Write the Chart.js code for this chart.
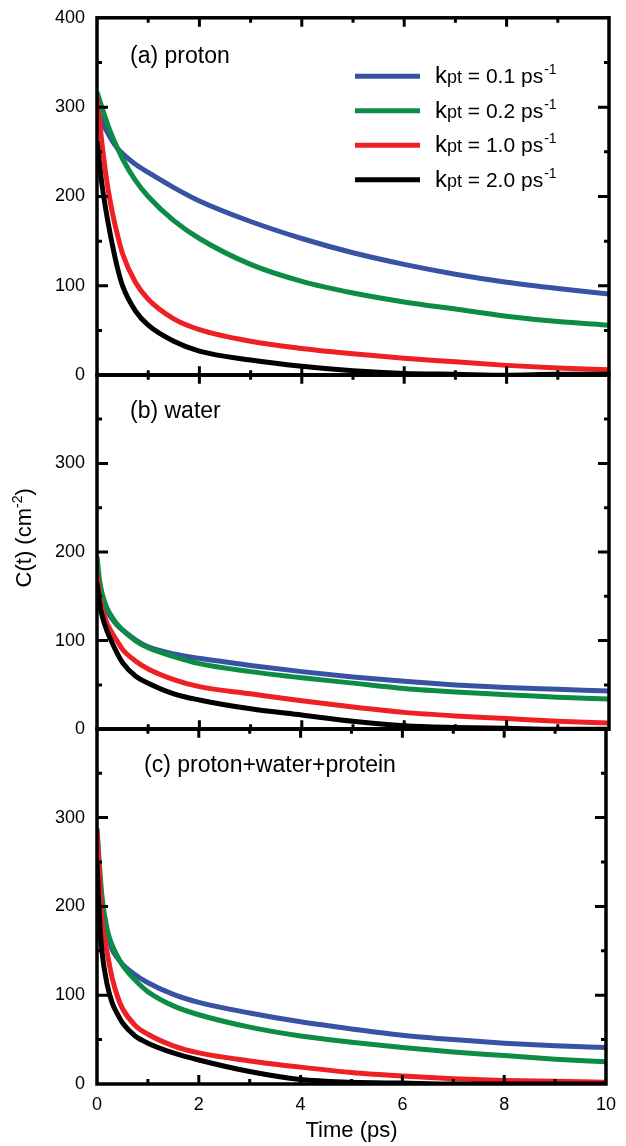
<!DOCTYPE html>
<html>
<head>
<meta charset="utf-8">
<script src="https://cdn.jsdelivr.net/npm/chart.js@4/dist/chart.umd.min.js"></script>
<style>
  body { margin: 0; background: #fff; width: 626px; height: 1146px; position: relative; overflow: hidden; }
  canvas { position: absolute; left: 0; }
</style>
</head>
<body>
<canvas id="panelA" width="626" height="400" style="top:0px"></canvas>
<canvas id="panelB" width="626" height="400" style="top:360px"></canvas>
<canvas id="panelC" width="626" height="430" style="top:716px"></canvas>
<script>
// time points (ps) shared by every curve
const times = [0, 0.05, 0.1, 0.2, 0.3, 0.4, 0.5, 0.75, 1, 1.5, 2, 3, 4, 5, 6, 7, 8, 9, 10];

const rates = ['0.1', '0.2', '1.0', '2.0'];
const colors = ['#3953a4', '#0c8c44', '#ee2024', '#000000'];

// (a) proton
const protonK01 = [297, 290, 284, 272, 262, 254, 248, 236, 227, 210, 195, 172, 153, 137, 124, 113, 104, 97, 91];
const protonK02 = [317, 308, 299, 282, 267, 254, 242, 218, 200, 173, 153, 124, 105, 92, 82, 74, 66, 60, 56];
const protonK10 = [312, 284, 258, 214, 182, 157, 136, 104, 85, 63, 51, 38, 30, 24, 19, 15, 11, 8, 6];
const protonK20 = [262, 236, 212, 176, 146, 120, 100, 72, 56, 38, 27, 17, 10, 5, 2, 1, 0, 1, 1];

// (b) water
const waterK01 = [185, 160, 147, 133, 124, 117, 112, 101, 93, 85, 80, 72, 65, 59, 54, 50, 47, 45, 43];
const waterK02 = [195, 168, 153, 136, 126, 118, 112, 100, 92, 82, 74, 65, 58, 52, 46, 42, 39, 36, 34];
const waterK10 = [175, 150, 136, 119, 108, 99, 90, 77, 68, 56, 48, 40, 32, 25, 19, 15, 12, 9, 7];
const waterK20 = [165, 142, 128, 110, 97, 85, 75, 60, 52, 40, 33, 23, 16, 9, 4, 2, 1, 0, 0];

// (c) proton+water+protein
const totalK01 = [275, 232, 203, 170, 151, 142, 135, 123, 114, 101, 92, 80, 70, 62, 55, 50, 46, 43, 41];
const totalK02 = [288, 245, 210, 174, 156, 144, 134, 117, 104, 88, 78, 64, 54, 47, 41, 36, 32, 28, 25];
const totalK10 = [286, 232, 184, 148, 119, 99, 85, 66, 56, 43, 35, 26, 19, 13, 9, 6, 4, 3, 2];
const totalK20 = [250, 185, 148, 112, 91, 79, 69, 54, 46, 35, 27, 14, 5, 2, 1, 0, 0, 0, 0];

const FONT = "'Liberation Sans', Arial, sans-serif";

function makeDatasets(series) {
  return series.map((vals, i) => ({
    label: 'kpt = ' + rates[i] + ' ps-1',
    data: times.map((t, j) => ({ x: t, y: vals[j] })),
    borderColor: colors[i],
    borderWidth: 5,
    pointRadius: 0,
    fill: false,
    cubicInterpolationMode: 'monotone'
  })).reverse(); // black drawn first, blue on top
}

// frame with inward ticks on all four sides, plus the texts
const framePlugin = {
  id: 'frame',
  afterDatasetsDraw(chart) {
    const { ctx, chartArea: a, scales: { x, y } } = chart;
    ctx.save();
    ctx.strokeStyle = '#000';
    ctx.lineWidth = 3.5;
    ctx.strokeRect(a.left, a.top, a.right - a.left, a.bottom - a.top);
    ctx.lineWidth = 3;
    ctx.beginPath();
    for (let v = 50; v < 400; v += 50) {
      const py = y.getPixelForValue(v);
      const len = v % 100 === 0 ? 11 : 5;
      ctx.moveTo(a.left, py); ctx.lineTo(a.left + len, py);
      ctx.moveTo(a.right, py); ctx.lineTo(a.right - len, py);
    }
    for (let t = 1; t < 10; t++) {
      const px = x.getPixelForValue(t);
      const len = t % 2 === 0 ? 9 : 5;
      ctx.moveTo(px, a.top); ctx.lineTo(px, a.top + len);
      ctx.moveTo(px, a.bottom); ctx.lineTo(px, a.bottom - len);
    }
    ctx.stroke();
    ctx.restore();
  },
  afterDraw(chart, args, opts) {
    const ctx = chart.ctx;
    const off = parseFloat(chart.canvas.style.top) || 0;
    ctx.save();
    ctx.translate(0, -off); // draw in page coordinates
    ctx.fillStyle = '#000';
    ctx.textBaseline = 'alphabetic';
    ctx.font = '23px ' + FONT;
    ctx.fillText(opts.label, opts.labelX, opts.labelY);

    if (opts.legend) {
      const sets = chart.data.datasets.slice().reverse();
      sets.forEach((ds, i) => {
        const ly = 76.5 + i * 34.5;
        ctx.strokeStyle = ds.borderColor;
        ctx.lineWidth = 5;
        ctx.beginPath();
        ctx.moveTo(355, ly); ctx.lineTo(420, ly);
        ctx.stroke();
        const base = ly + 7;
        let x = 435;
        ctx.font = '24px ' + FONT;
        ctx.fillText('k', x, base); x += ctx.measureText('k').width;
        ctx.font = '18px ' + FONT;
        ctx.fillText('pt', x, base); x += ctx.measureText('pt').width;
        ctx.font = '21px ' + FONT;
        const mid = ' = ' + rates[i] + ' ps';
        ctx.fillText(mid, x, base); x += ctx.measureText(mid).width;
        ctx.font = '14px ' + FONT;
        ctx.fillText('-1', x + 1, base - 9);
      });
    }

    if (opts.yTitle) {
      ctx.translate(25, 538);
      ctx.rotate(-Math.PI / 2);
      const f1 = '22px ' + FONT, f2 = '14px ' + FONT;
      ctx.font = f1;
      const w1 = ctx.measureText('C(t) (cm').width, w3 = ctx.measureText(')').width;
      ctx.font = f2;
      const w2 = ctx.measureText('-2').width;
      let x = -(w1 + w2 + w3) / 2;
      ctx.textBaseline = 'middle';
      ctx.font = f1;
      ctx.fillText('C(t) (cm', x, 0); x += w1;
      ctx.font = f2;
      ctx.fillText('-2', x, -7); x += w2;
      ctx.font = f1;
      ctx.fillText(')', x, 0);
    }
    ctx.restore();
  }
};

function buildChart(canvas, series, opts) {
  const showX = !!opts.showX;
  return new Chart(canvas, {
    type: 'line',
    data: { datasets: makeDatasets(series) },
    plugins: [framePlugin],
    options: {
      responsive: false,
      animation: false,
      layout: { padding: { top: 12, bottom: showX ? 0 : 12, left: 0, right: 17 } },
      plugins: {
        legend: { display: false },
        tooltip: { enabled: false },
        frame: opts.frame
      },
      scales: {
        x: {
          type: 'linear',
          min: 0, max: 10,
          display: showX,
          grid: { display: false, drawTicks: false },
          border: { display: false },
          ticks: { stepSize: 2, padding: 10, color: '#000', font: { size: 18, family: FONT } },
          title: { display: showX, text: 'Time (ps)', color: '#000', font: { size: 22, family: FONT }, padding: { top: 0, bottom: 2 } },
          afterFit(scale) { if (showX) scale.height = 62; }
        },
        y: {
          min: 0, max: 400,
          grid: { display: false, drawTicks: false },
          border: { display: false },
          ticks: {
            stepSize: 100, padding: 12, color: '#000',
            font: { size: 18, family: FONT },
            callback: v => (v === 400 && !opts.showTop) ? '' : v
          },
          afterFit(scale) { scale.width = 97; }
        }
      }
    }
  });
}

// build once, measure the plot area, then resize/move the canvas so the
// plot area lands on plotTop..plotBottom of the page
function makeChart(id, series, opts) {
  const canvas = document.getElementById(id);
  let chart = buildChart(canvas, series, opts);
  const a = chart.chartArea;
  const topPad = a.top;
  const bottomPad = canvas.height - a.bottom;
  chart.destroy();
  canvas.width = 626;
  canvas.height = Math.round(topPad + (opts.plotBottom - opts.plotTop) + bottomPad);
  canvas.style.top = (opts.plotTop - topPad) + 'px';
  return buildChart(canvas, series, opts);
}

makeChart('panelA', [protonK01, protonK02, protonK10, protonK20], {
  plotTop: 18, plotBottom: 375, showTop: true,
  frame: { label: '(a) proton', labelX: 130, labelY: 63, legend: true }
});
makeChart('panelB', [waterK01, waterK02, waterK10, waterK20], {
  plotTop: 375, plotBottom: 729,
  frame: { label: '(b) water', labelX: 130, labelY: 418, yTitle: true }
});
makeChart('panelC', [totalK01, totalK02, totalK10, totalK20], {
  plotTop: 729, plotBottom: 1084, showX: true,
  frame: { label: '(c) proton+water+protein', labelX: 144, labelY: 772 }
});
</script>
</body>
</html>
